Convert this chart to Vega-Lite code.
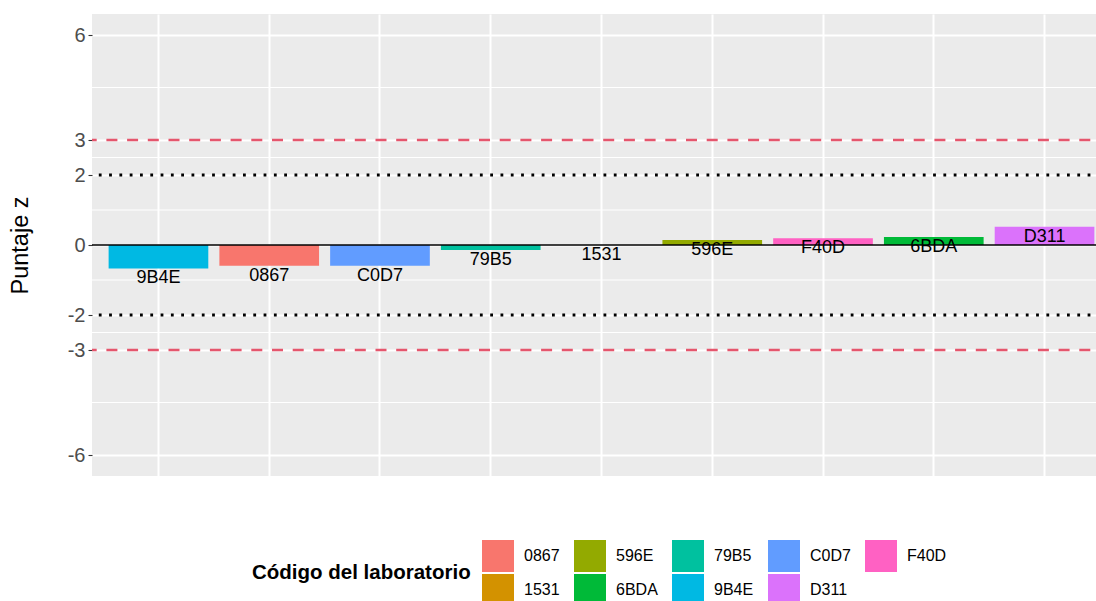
{
  "$schema": "https://vega.github.io/schema/vega-lite/v6.json",
  "width": 1019,
  "height": 462,
  "autosize": {"type": "none"},
  "padding": {"left": 92, "top": 14, "right": 0, "bottom": 125},
  "background": "white",
  "config": {
    "view": {"fill": "#EBEBEB", "stroke": null},
    "font": "Liberation Sans",
    "axisY": {
      "grid": true, "gridColor": "white", "gridWidth": 2, "domain": false,
      "tickColor": "#333333", "tickSize": 4, "tickWidth": 1.1,
      "labelFontSize": 20, "labelColor": "#4D4D4D", "labelPadding": 3,
      "labelExpr": "'' + datum.value",
      "titleFontSize": 23.5, "titleFontWeight": "normal", "titleColor": "black", "titleX": -60
    },
    "axisX": {
      "labels": false, "ticks": false, "domain": false, "grid": true,
      "gridColor": "white", "gridWidth": 2, "bandPosition": 0.5
    }
  },
  "datasets": {
    "scores": [
      {"lab": "9B4E", "z": -0.67},
      {"lab": "0867", "z": -0.59},
      {"lab": "C0D7", "z": -0.59},
      {"lab": "79B5", "z": -0.14},
      {"lab": "1531", "z": 0.0},
      {"lab": "596E", "z": 0.14},
      {"lab": "F40D", "z": 0.19},
      {"lab": "6BDA", "z": 0.23},
      {"lab": "D311", "z": 0.52}
    ],
    "minor": [{"z": -4.5}, {"z": -2.5}, {"z": -1}, {"z": 1}, {"z": 2.5}, {"z": 4.5}],
    "limit3": [{"z": 3}, {"z": -3}],
    "limit2": [{"z": 2}, {"z": -2}],
    "zero": [{"z": 0}]
  },
  "layer": [
    {
      "data": {"name": "minor"},
      "mark": {"type": "rule", "color": "white", "strokeWidth": 1},
      "encoding": {
        "y": {"field": "z", "type": "quantitative", "title": "Puntaje z",
              "scale": {"domain": [-6.6, 6.6], "nice": false, "zero": false},
              "axis": {"values": [-6, -3, -2, 0, 2, 3, 6]}}
      }
    },
    {
      "data": {"name": "scores"},
      "mark": {"type": "bar"},
      "encoding": {
        "x": {"field": "lab", "type": "nominal", "title": null,
              "sort": ["9B4E", "0867", "C0D7", "79B5", "1531", "596E", "F40D", "6BDA", "D311"],
              "scale": {"paddingInner": 0.1, "paddingOuter": 0.15}},
        "y": {"field": "z", "type": "quantitative", "title": "Puntaje z",
              "scale": {"domain": [-6.6, 6.6], "nice": false, "zero": false},
              "axis": {"values": [-6, -3, -2, 0, 2, 3, 6]}},
        "color": {
          "field": "lab", "type": "nominal",
          "scale": {
            "domain": ["0867", "596E", "79B5", "C0D7", "F40D", "1531", "6BDA", "9B4E", "D311"],
            "range": ["#F8766D", "#93AA00", "#00C19F", "#619CFF", "#FF61C3", "#D39200", "#00BA38", "#00B9E3", "#DB72FB"]
          },
          "legend": {
            "orient": "none", "legendX": 160, "legendY": 526, "direction": "horizontal",
            "columns": 5, "title": "Código del laboratorio", "titleOrient": "left",
            "titleFontSize": 20.5, "titleFontWeight": "bold", "titleColor": "black", "titleLimit": 400,
            "titleAnchor": "middle", "titleBaseline": "middle", "titlePadding": 11,
            "symbolType": "square", "symbolSize": 1024, "symbolStrokeWidth": 0, "symbolOpacity": 1,
            "labelFontSize": 16, "labelColor": "black", "labelOffset": 10,
            "columnPadding": 14, "rowPadding": 2, "padding": 0
          }
        }
      }
    },
    {
      "data": {"name": "scores"},
      "mark": {"type": "text", "fontSize": 18, "color": "black", "baseline": "middle", "dy": 10},
      "encoding": {
        "x": {"field": "lab", "type": "nominal", "title": null,
              "sort": ["9B4E", "0867", "C0D7", "79B5", "1531", "596E", "F40D", "6BDA", "D311"],
              "scale": {"paddingInner": 0.1, "paddingOuter": 0.15}},
        "y": {"field": "z", "type": "quantitative", "title": "Puntaje z",
              "scale": {"domain": [-6.6, 6.6], "nice": false, "zero": false},
              "axis": {"values": [-6, -3, -2, 0, 2, 3, 6]}},
        "text": {"field": "lab"}
      }
    },
    {
      "data": {"name": "zero"},
      "mark": {"type": "rule", "color": "black", "strokeWidth": 1.3},
      "encoding": {
        "y": {"field": "z", "type": "quantitative", "title": "Puntaje z",
              "scale": {"domain": [-6.6, 6.6], "nice": false, "zero": false},
              "axis": {"values": [-6, -3, -2, 0, 2, 3, 6]}}
      }
    },
    {
      "data": {"name": "limit3"},
      "mark": {"type": "rule", "color": "#E5566D", "strokeWidth": 2.6, "strokeDash": [11, 9.7]},
      "encoding": {
        "y": {"field": "z", "type": "quantitative", "title": "Puntaje z",
              "scale": {"domain": [-6.6, 6.6], "nice": false, "zero": false},
              "axis": {"values": [-6, -3, -2, 0, 2, 3, 6]}}
      }
    },
    {
      "data": {"name": "limit2"},
      "mark": {"type": "rule", "color": "black", "strokeWidth": 2.8, "strokeDash": [2.8, 7.5]},
      "encoding": {
        "y": {"field": "z", "type": "quantitative", "title": "Puntaje z",
              "scale": {"domain": [-6.6, 6.6], "nice": false, "zero": false},
              "axis": {"values": [-6, -3, -2, 0, 2, 3, 6]}}
      }
    }
  ]
}
